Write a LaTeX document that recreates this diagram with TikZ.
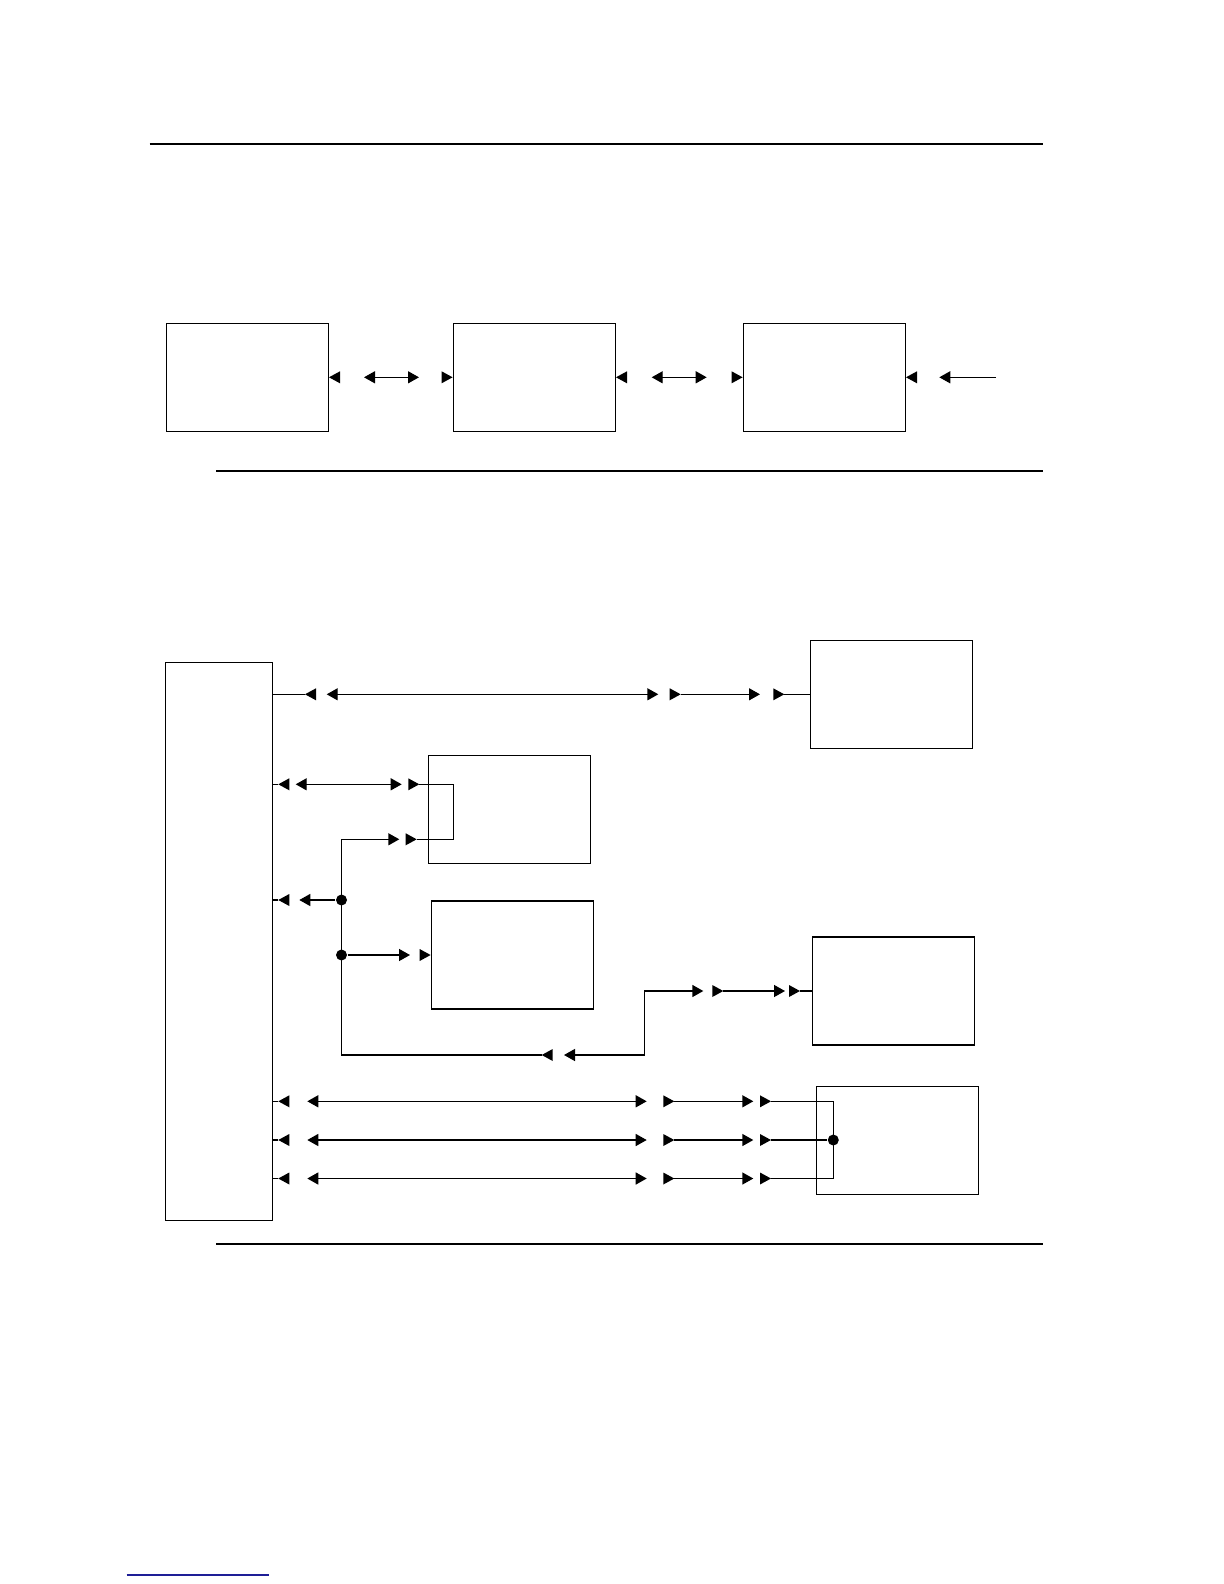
\documentclass[tikz,border=0pt]{standalone}
\usetikzlibrary{arrows.meta}
\definecolor{linkblue}{RGB}{30,30,150}
\tikzset{
  blk/.style={draw, minimum width=81pt, minimum height=54pt, inner sep=0pt},
  hubblk/.style={draw, minimum width=53.6pt, minimum height=279.2pt, inner sep=0pt},
  rule/.style={line width=1pt},
  dot/.style={circle, fill, inner sep=0pt, minimum size=5.5pt},
  tipl/.pic={\fill (0,0) -- (11,-6) -- (11,6) -- cycle;},
  tipr/.pic={\fill (0,0) -- (-11,-6) -- (-11,6) -- cycle;}
}
\begin{document}
\begin{tikzpicture}[x=0.5pt, y=-0.5pt, line width=0.7pt, >={Triangle[length=5.5pt,width=6pt]}]
\useasboundingbox (0,0) rectangle (1224,1584);
% rules
\draw[rule] (149.5,144.4) -- (1043,144.4);
\draw[rule] (216,470.6) -- (1043,470.6);
\draw[rule] (216,1244.2) -- (1043,1244.2);
\draw[linkblue, line width=0.6pt] (126.7,1575) -- (269,1575);
% upper chain
\node[blk] (t1) at (247.3,377.3) {};
\node[blk] (t2) at (534.3,377.3) {};
\node[blk] (t3) at (824.3,377.3) {};
\foreach \n/\x in {1/364,2/419,3/651.7,4/706.7,5/939.3,6/996}
  \coordinate (s\n) at (\x,377.3);
\pic at (t1.east) {tipl};
\draw[<->] (s1) -- (s2);
\pic at (t2.west) {tipr};
\pic at (t2.east) {tipl};
\draw[<->] (s3) -- (s4);
\pic at (t3.west) {tipr};
\pic at (t3.east) {tipl};
\draw[->] (s6) -- (s5);
% lower part
\node[hubblk] (hub) at (218.9,941.5) {};
\node[blk] (u1) at (891.5,694.3) {};
\node[blk] (u2) at (509.5,809.3) {};
\node[blk] (u3) at (512.3,955) {};
\node[blk] (u4) at (893.5,991) {};
\node[blk] (u5) at (897.3,1140.3) {};
% row to u1
\foreach \n/\x in {a/305,b/326.7,c/658.3,d/680.7,e/760,f/784.3}
  \coordinate (r1\n) at (\x,694.3);
\draw (hub.east |- r1a) -- (r1a);
\pic at (r1a) {tipl};
\draw[<->] (r1b) -- (r1c);
\pic at (r1d) {tipr};
\draw[->] (r1d) -- (r1e);
\pic at (r1f) {tipr};
\draw (r1f) -- (u1.west);
% loop through u2
\foreach \n/\x in {a/278.3,b/295.7,c/401.7,d/419.3,e/453.3}
  \coordinate (r2\n) at (\x,784.3);
\foreach \n/\x in {a/341.5,b/399.3,c/416.7,d/453.3}
  \coordinate (r3\n) at (\x,839.3);
\draw (hub.east |- r2a) -- (r2a);
\pic at (r2a) {tipl};
\draw[<->] (r2b) -- (r2c);
\pic at (r2d) {tipr};
\draw (r2d) -- (r2e) -- (r3d) -- (r3c);
\pic at (r3c) {tipr};
% trunk with junctions
\node[dot] (j1) at (341.5,900) {};
\node[dot] (j2) at (341.5,955) {};
\coordinate (r4a) at (278.3,900);
\coordinate (r4b) at (299.3,900);
\coordinate (r5a) at (410,955);
\draw (hub.east |- j1) -- (r4a);
\pic at (r4a) {tipl};
\draw[->] (j1) -- (r4b);
\draw[->] (j2) -- (r5a);
\pic at (u3.west) {tipr};
\coordinate (r6a) at (541.7,1055);
\coordinate (r6b) at (564,1055);
\draw[->] (r6a) -| (r3a) -- (r3b);
\pic at (r6a) {tipl};
% step to u4
\foreach \n/\x in {k/644.3,a/703.3,b/723.3,c/785,d/800}
  \coordinate (r7\n) at (\x,991);
\draw[<->] (r6b) -| (r7k) -- (r7a);
\pic at (r7b) {tipr};
\draw[->] (r7b) -- (r7c);
\pic at (r7d) {tipr};
\draw (r7d) -- (u4.west);
% three rows to u5
\foreach \rw/\yy in {a/1101.3,b/1140,c/1178.5} {
  \foreach \n/\x in {1/278.3,2/307.3,3/646.7,4/674.3,5/753.3,6/771,7/833.3}
    \coordinate (\rw\n) at (\x,\yy);
  \draw (hub.east |- \rw1) -- (\rw1);
  \pic at (\rw1) {tipl};
  \draw[<->] (\rw2) -- (\rw3);
  \pic at (\rw4) {tipr};
  \draw[->] (\rw4) -- (\rw5);
  \pic at (\rw6) {tipr};
}
\draw (a6) -- (a7) -- (c7) -- (c6);
\node[dot] (j3) at (b7) {};
\draw (b6) -- (j3);
\end{tikzpicture}
\end{document}
